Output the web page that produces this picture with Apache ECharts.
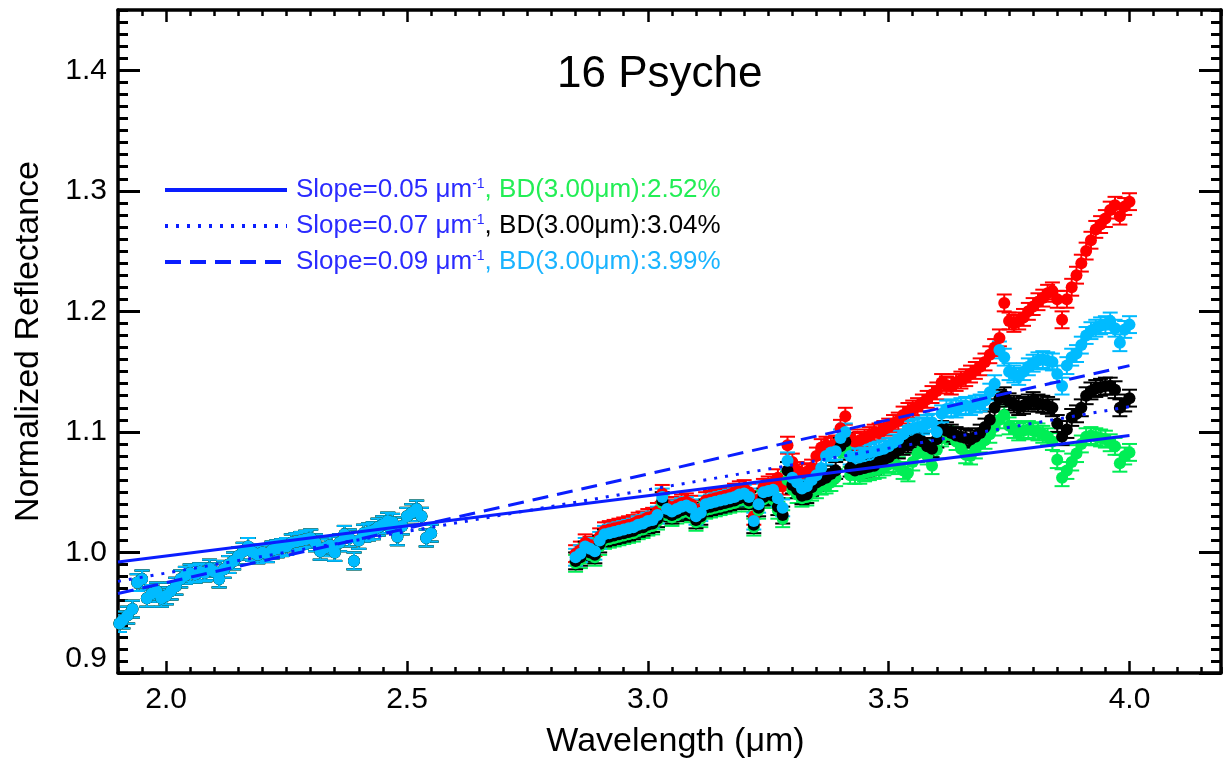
<!DOCTYPE html>
<html>
<head>
<meta charset="utf-8">
<script src="https://cdn.jsdelivr.net/npm/echarts@6/dist/echarts.min.js"></script>
<style>html,body{margin:0;padding:0;background:#fff;}#chart{width:1225px;height:764px;}</style>
</head>
<body>
<div id="chart"></div>
<script>
// ---------------- data ----------------
// Segment 1 (all four reductions coincide here)
const wl1 = [1.903,1.91,1.92,1.93,1.94,1.95,1.96,1.97,1.98,1.99,2.00,2.01,2.02,2.03,2.04,2.05,2.06,2.07,2.08,2.09,2.10,2.11,2.12,2.13,2.14,2.15,2.16,2.17,2.18,2.19,2.20,2.21,2.22,2.23,2.24,2.25,2.26,2.27,2.28,2.29,2.30,2.31,2.32,2.33,2.34,2.35,2.36,2.37,2.38,2.39,2.40,2.41,2.42,2.43,2.44,2.45,2.46,2.47,2.48,2.49,2.50,2.51,2.52,2.53,2.54,2.55];
const refl1 = [0.941,0.944,0.948,0.953,0.975,0.978,0.962,0.966,0.968,0.962,0.964,0.968,0.972,0.978,0.981,0.983,0.982,0.984,0.983,0.987,0.984,0.978,0.986,0.990,0.993,0.997,1.001,1.005,1.000,0.998,1.000,0.999,1.002,1.003,1.004,1.005,1.008,1.009,1.010,1.011,1.012,1.008,1.001,1.004,1.006,1.000,1.008,1.015,1.012,0.993,1.010,1.016,1.017,1.018,1.021,1.023,1.026,1.025,1.013,1.022,1.030,1.033,1.036,1.030,1.012,1.016];

// Segment 2
const wl2 = [2.85,2.86,2.87,2.88,2.89,2.90,2.91,2.92,2.93,2.94,2.95,2.96,2.97,2.98,2.99,3.00,3.01,3.02,3.03,3.04,3.05,3.06,3.07,3.08,3.09,3.10,3.11,3.12,3.13,3.14,3.15,3.16,3.17,3.18,3.19,3.20,3.21,3.22,3.23,3.24,3.25,
3.26,3.27,3.28,3.29,3.30,3.31,3.32,3.33,3.34,3.35,3.36,3.37,3.38,3.39,3.40,3.41,3.42,3.43,3.44,3.45,3.46,3.47,3.48,3.49,3.50,3.51,3.52,3.53,3.54,3.55,3.56,3.57,3.58,3.59,3.60,3.61,3.62,3.63,3.64,3.65,3.66,3.67,3.68,3.69,3.70,3.71,3.72,3.73,3.74,3.75,3.76,3.77,3.78,3.79,3.80,3.81,3.82,3.83,3.84,3.85,3.86,3.87,3.88,3.89,3.90,3.91,3.92,3.93,3.94,3.95,3.96,3.97,3.98,3.99,4.00];

const red2 = [0.999,1.002,1.008,1.006,1.004,1.013,1.018,1.019,1.020,1.021,1.022,1.023,1.024,1.026,1.027,1.029,1.030,1.034,1.049,1.039,1.037,1.039,1.041,1.042,1.040,1.033,1.036,1.043,1.044,1.045,1.046,1.047,1.048,1.050,1.052,1.053,1.050,1.030,1.044,1.054,1.056,
1.058,1.062,1.055,1.089,1.075,1.068,1.066,1.067,1.070,1.080,1.087,1.089,1.088,1.090,1.103,1.113,1.095,1.092,1.093,1.095,1.097,1.099,1.100,1.102,1.104,1.107,1.109,1.114,1.117,1.119,1.121,1.124,1.127,1.131,1.134,1.141,1.139,1.138,1.141,1.143,1.145,1.148,1.151,1.154,1.158,1.164,1.170,1.178,1.207,1.192,1.190,1.192,1.195,1.200,1.204,1.208,1.211,1.215,1.217,1.210,1.193,1.210,1.220,1.230,1.240,1.250,1.259,1.268,1.272,1.277,1.284,1.288,1.279,1.287,1.291];

const black2 = [0.993,0.996,1.002,1.000,0.998,1.007,1.012,1.013,1.014,1.015,1.016,1.017,1.018,1.020,1.021,1.023,1.024,1.028,1.043,1.033,1.031,1.033,1.035,1.036,1.034,1.027,1.030,1.037,1.038,1.039,1.040,1.041,1.042,1.043,1.045,1.046,1.043,1.023,1.037,1.046,1.048,
1.047,1.038,1.031,1.068,1.056,1.052,1.047,1.048,1.054,1.058,1.060,1.062,1.065,1.068,1.088,1.092,1.070,1.068,1.069,1.070,1.071,1.072,1.075,1.077,1.079,1.082,1.085,1.088,1.090,1.092,1.094,1.092,1.088,1.086,1.094,1.102,1.101,1.099,1.097,1.096,1.095,1.094,1.096,1.099,1.104,1.110,1.120,1.128,1.130,1.125,1.123,1.121,1.122,1.124,1.126,1.124,1.123,1.122,1.120,1.107,1.096,1.102,1.112,1.115,1.120,1.130,1.134,1.136,1.137,1.138,1.138,1.135,1.120,1.124,1.128];

const green2 = [0.991,0.994,1.000,0.998,0.996,1.005,1.010,1.011,1.012,1.013,1.014,1.015,1.016,1.018,1.019,1.021,1.022,1.026,1.041,1.031,1.029,1.031,1.033,1.034,1.032,1.025,1.028,1.035,1.036,1.037,1.038,1.039,1.040,1.041,1.043,1.044,1.041,1.021,1.035,1.044,1.046,
1.044,1.035,1.028,1.060,1.052,1.048,1.045,1.046,1.050,1.052,1.055,1.056,1.058,1.062,1.084,1.086,1.064,1.064,1.064,1.066,1.067,1.068,1.069,1.071,1.073,1.074,1.072,1.068,1.066,1.075,1.082,1.086,1.080,1.072,1.085,1.095,1.098,1.097,1.092,1.086,1.081,1.080,1.085,1.090,1.093,1.098,1.104,1.110,1.114,1.105,1.102,1.100,1.101,1.102,1.101,1.100,1.098,1.096,1.092,1.077,1.062,1.068,1.075,1.082,1.090,1.096,1.097,1.096,1.095,1.094,1.091,1.088,1.074,1.080,1.083];

const cyan2 = [0.996,0.999,1.005,1.003,1.001,1.010,1.015,1.016,1.017,1.018,1.019,1.020,1.021,1.023,1.024,1.026,1.027,1.031,1.046,1.036,1.034,1.036,1.038,1.039,1.037,1.030,1.033,1.040,1.041,1.042,1.043,1.044,1.045,1.046,1.048,1.049,1.046,1.026,1.040,1.050,1.051,
1.052,1.045,1.037,1.076,1.062,1.058,1.053,1.055,1.060,1.064,1.070,1.080,1.083,1.084,1.095,1.100,1.080,1.079,1.080,1.082,1.083,1.084,1.085,1.086,1.088,1.091,1.094,1.098,1.102,1.103,1.104,1.105,1.107,1.108,1.100,1.115,1.119,1.120,1.119,1.121,1.122,1.121,1.123,1.124,1.126,1.133,1.140,1.168,1.162,1.150,1.148,1.146,1.150,1.154,1.157,1.159,1.160,1.159,1.158,1.148,1.138,1.155,1.162,1.165,1.172,1.180,1.184,1.186,1.188,1.189,1.192,1.186,1.174,1.185,1.189];

// Half-size of the error bars of each reduction (reflectance units)
const seriesErr = [0.007, 0.007, 0.007, 0.007];

// Continuum fits (straight lines)
const fitX = [1.9, 4.0];
const fitSolid = [0.992, 1.097];
const fitDotted = [0.976, 1.121];
const fitDashed = [0.966, 1.155];

// Legend texts
const legendSlopes = ['0.05', '0.07', '0.09'];
const legendBD = ['2.52%', '3.04%', '3.99%'];

// Tick labels
const xTicks = [2.0, 2.5, 3.0, 3.5, 4.0];
const yTicks = [0.9, 1.0, 1.1, 1.2, 1.3, 1.4];

// ---------------- chart ----------------
const FONT = 'Liberation Sans, Arial, Helvetica, sans-serif';
const BLUE = '#0a1eff';
const COLORS = { red: '#ff0000', green: '#00ee55', black: '#000000', cyan: '#00bbff' };

const chart = echarts.init(document.getElementById('chart'), null, { renderer: 'canvas' });

function pts(wa, va, wb, vb, err) {
  const out = [];
  for (let i = 0; i < wa.length; i++) out.push([wa[i], va[i], err]);
  for (let i = 0; i < wb.length; i++) out.push([wb[i], vb[i], err]);
  return out;
}

function errSeries(name, color, data) {
  return {
    type: 'custom', name: name + '-err', data: data, clip: true, silent: true, z: 2,
    encode: { x: 0, y: 1 },
    renderItem: function (params, api) {
      const x = api.value(0), y = api.value(1), e = api.value(2);
      const t = api.coord([x, y + e]);
      const b = api.coord([x, y - e]);
      const hw = 7.5;
      const st = { stroke: color, lineWidth: 2 };
      return {
        type: 'group', children: [
          { type: 'line', shape: { x1: t[0], y1: t[1], x2: b[0], y2: b[1] }, style: st },
          { type: 'line', shape: { x1: t[0] - hw, y1: t[1], x2: t[0] + hw, y2: t[1] }, style: st },
          { type: 'line', shape: { x1: b[0] - hw, y1: b[1], x2: b[0] + hw, y2: b[1] }, style: st }
        ]
      };
    }
  };
}

function dotSeries(name, color, data) {
  return {
    type: 'scatter', name: name, data: data, symbol: 'circle', symbolSize: 12, silent: true, z: 2,
    itemStyle: { color: color, opacity: 1 }, encode: { x: 0, y: 1 }
  };
}

const spectra = [
  ['red', red2, seriesErr[0]],
  ['green', green2, seriesErr[1]],
  ['black', black2, seriesErr[2]],
  ['cyan', cyan2, seriesErr[3]]
];

const series = [];
spectra.forEach(function (s) {
  const d = pts(wl1, refl1, wl2, s[1], s[2]);
  series.push(errSeries(s[0], COLORS[s[0]], d));
  series.push(dotSeries(s[0], COLORS[s[0]], d));
});

const fitNames = legendSlopes.map(function (s) { return 'Slope=' + s; });
const fitStyles = [
  { vals: fitSolid, type: 'solid' },
  { vals: fitDotted, type: [3, 8] },
  { vals: fitDashed, type: [16, 9] }
];
fitStyles.forEach(function (f, i) {
  series.push({
    type: 'line', name: fitNames[i], symbol: 'none', showSymbol: false, silent: true, z: 5,
    data: fitX.map(function (x, k) { return [x, f.vals[k]]; }),
    lineStyle: { color: BLUE, width: 3, type: f.type },
    itemStyle: { color: BLUE }
  });
});

const bdStyles = ['g', 'k', 'c'];

const axisLineStyle = { color: '#000', width: 3.5 };
const tickX = { color: '#000', width: 2.5 };
const tickY = { color: '#000', width: 3 };
const labelFont = { fontFamily: FONT, fontSize: 30, color: '#000' };

function xPair(pos, withLabels) {
  return [
    {
      type: 'value', min: 1.9, max: 4.19, interval: 0.05, position: pos,
      axisLine: { show: true, onZero: false, lineStyle: axisLineStyle },
      axisTick: { show: true, inside: true, length: 6, lineStyle: tickX },
      axisLabel: { show: false }, splitLine: { show: false },
      name: withLabels ? 'Wavelength (μm)' : '', nameLocation: 'middle', nameGap: 52,
      nameTextStyle: { fontFamily: FONT, fontSize: 34, color: '#000', padding: [0, 0, 0, 12] }
    },
    {
      type: 'value', min: 1.9, max: 4.19, position: pos,
      axisLine: { show: false, onZero: false },
      axisTick: { show: true, inside: true, length: 12, customValues: xTicks, lineStyle: tickX },
      axisLabel: withLabels ? Object.assign({ show: true, margin: 12, customValues: xTicks,
        formatter: function (v) { return Number(v).toFixed(1); } }, labelFont) : { show: false },
      splitLine: { show: false }
    }
  ];
}

function yPair(pos, withLabels) {
  return [
    {
      type: 'value', min: 0.9, max: 1.45, interval: 0.01, position: pos,
      axisLine: { show: true, onZero: false, lineStyle: axisLineStyle },
      axisTick: { show: true, inside: true, length: 10, lineStyle: tickY },
      axisLabel: { show: false }, splitLine: { show: false },
      name: withLabels ? 'Normalized Reflectance' : '', nameLocation: 'middle', nameGap: 72,
      nameTextStyle: { fontFamily: FONT, fontSize: 34, color: '#000' }
    },
    {
      type: 'value', min: 0.9, max: 1.45, position: pos,
      axisLine: { show: false, onZero: false },
      axisTick: { show: true, inside: true, length: 22, customValues: yTicks, lineStyle: tickY },
      axisLabel: withLabels ? Object.assign({ show: true, margin: 11, customValues: yTicks,
        formatter: function (v) {
          const s = Number(v).toFixed(1);
          return Math.abs(v - 0.9) < 1e-6 ? '{lo|' + s + '}' : s;
        },
        rich: { lo: { fontFamily: FONT, fontSize: 30, color: '#000', padding: [0, 0, 28, 0] } }
      }, labelFont) : { show: false },
      splitLine: { show: false }
    }
  ];
}

const option = {
  animation: false,
  backgroundColor: '#ffffff',
  title: {
    text: '16 Psyche', left: 557, top: 53, padding: 0,
    textStyle: { fontFamily: FONT, fontSize: 44, fontWeight: 'normal', color: '#000' }
  },
  legend: {
    show: true, orient: 'vertical', left: 163, top: 177, padding: 0,
    itemWidth: 122, itemHeight: 14, itemGap: 10,
    data: fitNames,
    lineStyle: { width: 4 },
    itemStyle: { opacity: 0, borderWidth: 0 },
    formatter: function (name) {
      const i = fitNames.indexOf(name);
      return '{b|Slope=' + legendSlopes[i] + ' μm}{s|-1}{' + bdStyles[i] + '|, BD(3.00μm):' + legendBD[i] + '}';
    },
    textStyle: {
      fontFamily: FONT, fontSize: 26, color: '#000', padding: [0, 0, 0, 4],
      rich: {
        b: { fontFamily: FONT, fontSize: 26, color: '#2b2bff' },
        s: { fontFamily: FONT, fontSize: 14, color: '#2b2bff', verticalAlign: 'top' },
        g: { fontFamily: FONT, fontSize: 26, color: '#22ee55' },
        k: { fontFamily: FONT, fontSize: 26, color: '#000000' },
        c: { fontFamily: FONT, fontSize: 26, color: '#1ab4ff' }
      }
    }
  },
  grid: { left: 118, right: 4, top: 10, bottom: 85, containLabel: false },
  xAxis: xPair('bottom', true).concat(xPair('top', false)),
  yAxis: yPair('left', true).concat(yPair('right', false)),
  series: series
};

chart.setOption(option);
</script>
</body>
</html>
